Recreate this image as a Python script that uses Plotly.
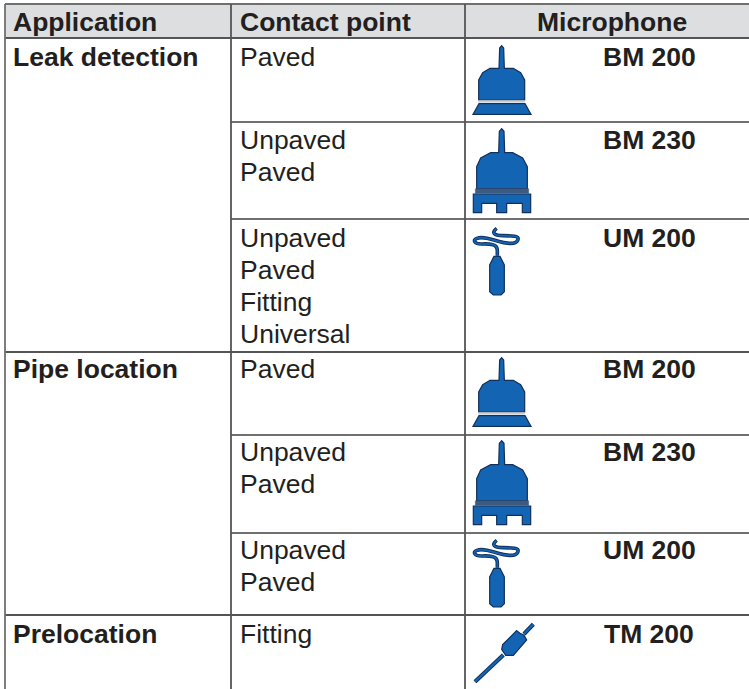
import plotly.graph_objects as go

W, H = 749, 689
INK = "#231f20"
RULE = "#555555"
RULE_SOFT = "#707070"
BLUE = "#1464b4"
NAVY = "#12305c"
FONT = "Liberation Sans"
SIZE = 26.5

headers = ["Application", "Contact point", "Microphone"]
applications = ["Leak detection", "Pipe location", "Prelocation"]
contact_rows = [
    ["Paved"],
    ["Unpaved", "Paved"],
    ["Unpaved", "Paved", "Fitting", "Universal"],
    ["Paved"],
    ["Unpaved", "Paved"],
    ["Unpaved", "Paved"],
    ["Fitting"],
]
microphones = ["BM 200", "BM 230", "UM 200", "BM 200", "BM 230", "UM 200", "TM 200"]
icons = ["bm200", "bm230", "um200", "bm200", "bm230", "um200", "tm200"]

# layout (page pixels)
row_tops = [38, 122, 219, 352, 435, 533, 615]
row_text_y = [57, 140, 238, 369, 452, 550, 634]
app_rows = [0, 3, 6]
col_x = [5, 231, 465]
text_x = [11, 238]
mic_label_x = 649
mic_header_x = 611.5
line_h = 32


def zoomed(points, ox, oy):
    """Convert icon outlines, drawn at 3x, to page pixels."""
    return [(ox + px / 3, oy + py / 3) for px, py in points]


def path(points, closed=True):
    d = "M" + " L".join(f"{x:.2f},{y:.2f}" for x, y in points)
    return d + (" Z" if closed else "")


def smooth(points):
    """Open curve through the midpoints of a control polygon."""
    d = f"M{points[0][0]:.2f},{points[0][1]:.2f}"
    for (ax, ay), (bx, by) in zip(points[1:-1], points[2:]):
        d += f" Q{ax:.2f},{ay:.2f} {(ax + bx) / 2:.2f},{(ay + by) / 2:.2f}"
    d += f" L{points[-1][0]:.2f},{points[-1][1]:.2f}"
    return d


BM200 = {
    "origin": (460, 30),
    "body": [(119, 54), (125, 47), (131, 54), (133, 115), (160, 115), (182, 128), (194, 150), (194, 210),
             (56, 210), (56, 150), (68, 128), (90, 115), (117, 115)],
    "base": [(57, 221), (195, 221), (213, 253), (39, 253)],
    "band": [(56, 212), (194, 212), (194, 217), (56, 217)],
}
BM230 = {
    "origin": (460, 30),
    "body": [(118, 304), (125, 296), (132, 304), (134, 368), (158, 368), (188, 384), (202, 410), (202, 476),
             (50, 476), (50, 410), (62, 384), (92, 368), (116, 368)],
    "base": [(40, 492), (212, 492), (212, 548), (187, 548), (187, 520), (140, 520), (140, 548), (110, 548),
             (110, 520), (65, 520), (65, 548), (40, 548)],
    "band": [(46, 476), (206, 476), (206, 490), (46, 490)],
}
UM200 = {
    "origin": (460, 215),
    "cable": [(110, 40), (98, 50), (108, 62), (150, 62), (178, 66), (168, 86), (130, 84), (100, 74), (62, 66),
              (40, 74), (50, 88), (85, 86), (112, 92), (112, 122)],
    "body": [(102, 124), (120, 124), (133, 150), (133, 230), (123, 240), (100, 240), (89, 230), (89, 150)],
}
TM200 = {
    "origin": (460, 610),
    "tip": [(220, 43), (192, 72)],
    "cable": [(130, 135), (45, 215)],
    "body": [(170, 62), (180, 70), (192, 76), (200, 90), (160, 136), (137, 136), (125, 118), (128, 104)],
}

shapes = []


def add_line(x0, y0, x1, y1, color=RULE, width=1.8):
    shapes.append(dict(type="line", x0=x0, y0=y0, x1=x1, y1=y1, line=dict(color=color, width=width)))


def add_poly(points, fill=BLUE, line=NAVY, width=1.2):
    shapes.append(dict(type="path", path=path(points), fillcolor=fill, line=dict(color=line, width=width)))


def add_stroke(points, color, width):
    shapes.append(dict(type="path", path=path(points, closed=False), line=dict(color=color, width=width)))


def add_curve(points, color, width):
    shapes.append(dict(type="path", path=smooth(points), line=dict(color=color, width=width)))


def draw_icon(kind, dy):
    if kind in ("bm200", "bm230"):
        spec = BM200 if kind == "bm200" else BM230
        ox, oy = spec["origin"]
        add_poly(zoomed(spec["body"], ox, oy + dy))
        band_fill = "#c8ccd0" if kind == "bm200" else "#3d5a80"
        add_poly(zoomed(spec["band"], ox, oy + dy), fill=band_fill, line=band_fill, width=0.5)
        add_poly(zoomed(spec["base"], ox, oy + dy))
    elif kind == "um200":
        ox, oy = UM200["origin"]
        add_curve(zoomed(UM200["cable"], ox, oy + dy), NAVY, 3.6)
        add_curve(zoomed(UM200["cable"], ox, oy + dy), BLUE, 1.7)
        add_poly(zoomed(UM200["body"], ox, oy + dy))
    else:
        ox, oy = TM200["origin"]
        add_stroke(zoomed(TM200["tip"], ox, oy), NAVY, 4.2)
        add_stroke(zoomed(TM200["tip"], ox, oy), BLUE, 2.2)
        add_stroke(zoomed(TM200["cable"], ox, oy), NAVY, 4.2)
        add_stroke(zoomed(TM200["cable"], ox, oy), BLUE, 2.2)
        add_poly(zoomed(TM200["body"], ox, oy))


# header band
shapes.append(dict(type="rect", x0=5, y0=4, x1=W, y1=38, fillcolor="#dcdee0", line=dict(width=0)))
add_line(5, 4, W, 4, color=RULE_SOFT, width=1.8)
add_line(5, 38, W, 38, width=2)

# rules
for i, top in enumerate(row_tops):
    if i == 0:
        continue
    if i in app_rows:
        add_line(col_x[0], top, W, top)
    else:
        add_line(col_x[1], top, W, top, color=RULE_SOFT)
for x in col_x:
    add_line(x, 4, x, H, color=RULE_SOFT if x == col_x[0] else RULE)

# icons
repeat_shift = 312  # the pipe-location block repeats the leak-detection icons
for i, kind in enumerate(icons):
    draw_icon(kind, repeat_shift if 3 <= i <= 5 else 0)

annotations = []


def add_text(x, y, text, bold=False, anchor="left"):
    annotations.append(dict(
        x=x, y=y, text=f"<b>{text}</b>" if bold else text, showarrow=False, xref="x", yref="y",
        xanchor=anchor, yanchor="middle", xshift=0,
        font=dict(family=FONT, size=SIZE, color=INK),
    ))


add_text(text_x[0], 22, headers[0], bold=True)
add_text(text_x[1], 22, headers[1], bold=True)
add_text(mic_header_x, 22, headers[2], bold=True, anchor="center")

for i, y0 in enumerate(row_text_y):
    if i in app_rows:
        add_text(text_x[0], y0, applications[app_rows.index(i)], bold=True)
    for j, label in enumerate(contact_rows[i]):
        add_text(text_x[1], y0 + j * line_h, label)
    add_text(mic_label_x, y0, microphones[i], bold=True, anchor="center")

fig = go.Figure()
fig.update_layout(
    width=W, height=H, margin=dict(l=0, r=0, t=0, b=0),
    paper_bgcolor="white", plot_bgcolor="white", showlegend=False,
    xaxis=dict(range=[0, W], visible=False, fixedrange=True),
    yaxis=dict(range=[H, 0], visible=False, fixedrange=True),
    shapes=shapes, annotations=annotations,
)
fig.write_html(
    "out.html",
    config=dict(displayModeBar=False),
    post_script="document.body.style.margin='0';document.documentElement.style.overflow='hidden';",
)
